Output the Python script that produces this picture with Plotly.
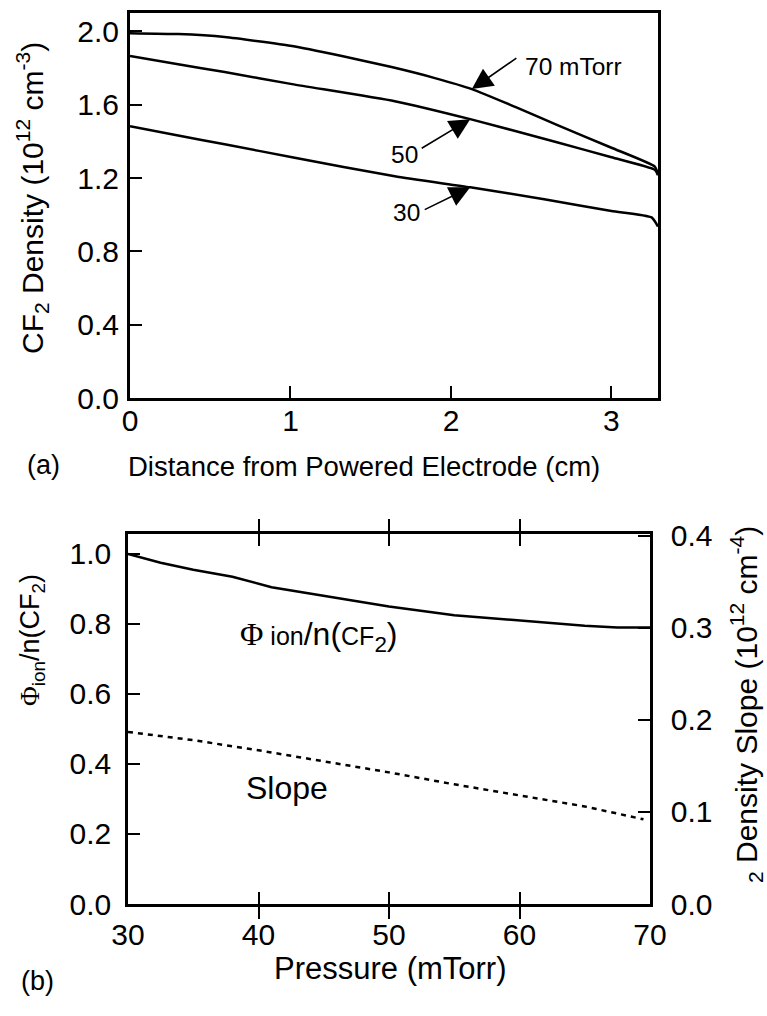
import plotly.graph_objects as go

# Panel (a): CF2 density profiles across the gap
dist_70 = [0.0, 0.30, 0.59, 1.01, 1.32, 1.63, 1.90, 2.13, 2.40, 2.66, 3.00, 3.27, 3.29]
dens_70 = [1.99, 1.985, 1.969, 1.920, 1.865, 1.805, 1.745, 1.685, 1.588, 1.49, 1.365, 1.262, 1.22]

dist_50 = [0.0, 0.30, 0.59, 1.01, 1.65, 2.12, 2.66, 3.00, 3.27, 3.29]
dens_50 = [1.865, 1.82, 1.778, 1.712, 1.619, 1.521, 1.395, 1.313, 1.245, 1.215]

dist_30 = [0.0, 0.30, 0.59, 1.01, 1.65, 2.12, 2.59, 3.00, 3.25, 3.29]
dens_30 = [1.482, 1.432, 1.384, 1.313, 1.209, 1.149, 1.083, 1.02, 0.985, 0.935]

# Panel (b): flux ratio and density slope versus pressure
pressure_phi = [30, 32.5, 35, 38, 41, 45, 50, 55, 60, 65, 67.5, 70]
phi_ratio = [1.00, 0.975, 0.955, 0.935, 0.905, 0.88, 0.85, 0.825, 0.81, 0.795, 0.79, 0.79]

pressure_slope = [30, 35, 40, 45, 50, 55, 60, 65, 69.5]
density_slope = [0.187, 0.178, 0.167, 0.155, 0.143, 0.13, 0.118, 0.106, 0.092]

FONT = "Arial, Liberation Sans, sans-serif"
SERIF = "Liberation Serif"
W, H = 767, 1016

fig = go.Figure()

for xs, ys in [(dist_70, dens_70), (dist_50, dens_50), (dist_30, dens_30)]:
    fig.add_trace(go.Scatter(x=xs, y=ys, mode="lines",
                             line=dict(color="black", width=2.5, shape="spline", smoothing=0.5),
                             xaxis="x", yaxis="y", showlegend=False, hoverinfo="skip"))

fig.add_trace(go.Scatter(x=pressure_phi, y=phi_ratio, mode="lines", line=dict(color="black", width=2.5),
                         xaxis="x2", yaxis="y2", showlegend=False))
fig.add_trace(go.Scatter(x=pressure_slope, y=density_slope, mode="lines",
                         line=dict(color="black", width=2.5, dash="5px,5px"),
                         xaxis="x2", yaxis="y3", showlegend=False))


def px_x(px):
    return px / W


def px_y(py):
    return 1 - py / H


axis_common = dict(showgrid=False, zeroline=False, showline=True, linecolor="black",
                   ticks="inside", ticklen=12, tickwidth=2, tickcolor="black", automargin=False,
                   tickfont=dict(family=FONT, size=30, color="black"))

fig.update_layout(
    width=W, height=H, margin=dict(l=0, r=0, t=0, b=0, pad=0, autoexpand=False),
    paper_bgcolor="white", plot_bgcolor="white",
    font=dict(family=FONT, color="black"),
    xaxis=dict(**axis_common, domain=[px_x(130), px_x(658)], range=[0, 3.29],
               tickvals=[0, 1, 2, 3], linewidth=3, mirror=True, anchor="y", ticklabelstandoff=-6),
    yaxis=dict(**axis_common, domain=[px_y(398), px_y(13)], range=[0, 2.10],
               tickvals=[0, 0.4, 0.8, 1.2, 1.6, 2.0], tickformat=".1f",
               linewidth=3, mirror=True, anchor="x", ticklabelstandoff=2),
    xaxis2=dict(**axis_common, domain=[px_x(128), px_x(650)], range=[30, 70],
                tickvals=[30, 40, 50, 60, 70], linewidth=2.5, mirror="allticks", anchor="y2",
                ticklabelstandoff=2),
    yaxis2=dict(**axis_common, domain=[px_y(904), px_y(534)], range=[0, 1.057],
                tickvals=[0, 0.2, 0.4, 0.6, 0.8, 1.0], tickformat=".1f",
                linewidth=2.5, mirror=True, anchor="x2", ticklabelstandoff=8),
    yaxis3=dict(**axis_common, range=[0, 0.402], tickvals=[0, 0.1, 0.2, 0.3, 0.4], tickformat=".1f",
                linewidth=2.5, overlaying="y2", side="right", anchor="x2", ticklabelstandoff=12),
)

annotations = []


def label(text, x, y, size=27, angle=0, xanchor="center"):
    annotations.append(dict(text=text, x=px_x(x), y=px_y(y), xref="paper", yref="paper",
                            showarrow=False, textangle=angle, xanchor=xanchor, yanchor="middle",
                            font=dict(family=FONT, size=size, color="black")))


# Axis titles and panel tags
label("Distance from Powered Electrode (cm)", 364, 466, size=27.5)
label("(a)", 43, 465)
label("CF<sub>2</sub> Density (10<sup>12</sup> cm<sup>-3</sup>)", 32, 198, size=30, angle=-90)
label("Pressure (mTorr)", 390, 968, size=31)
label("(b)", 37, 981)
label(f"<span style='font-family:{SERIF}'>Φ</span><sub>ion</sub>/n(CF<sub>2</sub>)",
      32, 640, angle=-90)
label("<sub>2</sub> Density Slope (10<sup>12</sup> cm<sup>-4</sup>)", 746, 705, size=30, angle=-90)

# In-plot curve labels for panel (b)
annotations.append(dict(
    text=(f"<span style='font-family:{SERIF}'>Φ</span><span style='font-size:25px'> ion</span>"
          "/n(<span style='font-size:25px'>CF</span><sub>2</sub>)"),
    x=44.6, y=0.763, xref="x2", yref="y2", showarrow=False,
    font=dict(family=FONT, size=32, color="black")))
annotations.append(dict(text="Slope", x=42.2, y=0.331, xref="x2", yref="y2", showarrow=False,
                        font=dict(family=FONT, size=32, color="black")))

# Pressure labels with arrows for panel (a)
arrow = dict(showarrow=True, arrowhead=2, arrowsize=2.6, arrowwidth=1.6, arrowcolor="black",
             xref="x", yref="y", text="")
annotations.append(dict(**arrow, x=2.13, y=1.685, ax=46, ay=-32))
annotations.append(dict(**arrow, x=2.12, y=1.521, ax=-50, ay=30))
annotations.append(dict(**arrow, x=2.12, y=1.149, ax=-47, ay=23))
annotations.append(dict(text="70 mTorr", x=2.446, y=1.81, xref="x", yref="y", showarrow=False,
                        xanchor="left", font=dict(family=FONT, size=24.5, color="black")))
annotations.append(dict(text="50", x=1.81, y=1.33, xref="x", yref="y", showarrow=False,
                        xanchor="right", font=dict(family=FONT, size=24.5, color="black")))
annotations.append(dict(text="30", x=1.82, y=1.012, xref="x", yref="y", showarrow=False,
                        xanchor="right", font=dict(family=FONT, size=24.5, color="black")))

fig.update_layout(annotations=annotations)

fig.write_html("out.html")
